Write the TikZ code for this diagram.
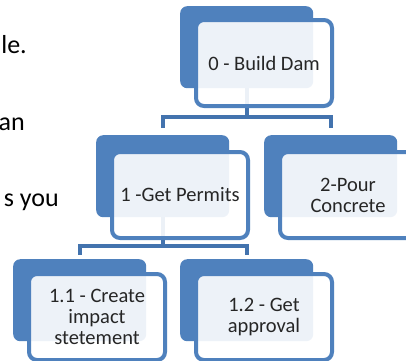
\documentclass[tikz,border=0pt]{standalone}
\usepackage{fontspec}
\setmainfont{Carlito}
\definecolor{accent}{HTML}{4F81BD}
\definecolor{connc}{HTML}{4373AE}
\tikzset{
  bluebox/.style={fill=accent, rounded corners=7pt, minimum width=133pt, minimum height=82pt, anchor=north west, inner sep=0pt},
  frontbox/.style={draw=accent, line width=4pt, fill=white, fill opacity=0.9, text opacity=1, rounded corners=8pt, minimum width=136pt, minimum height=86pt, anchor=north west, inner sep=0pt, align=center, font=\fontsize{20.5}{21}\selectfont, text=black!85},
  conn/.style={draw=connc, line width=4pt},
  sidetext/.style={anchor=base east, font=\fontsize{26}{30}\selectfont, inner sep=0pt}
}
\begin{document}
\begin{tikzpicture}[x=1pt,y=-1pt]
\clip (0,0) rectangle (406,360);
\fill[white] (0,0) rectangle (406,360);
% side text
\node[sidetext] (t1) at (27,53) {le.};
\node[sidetext] (t2) at (25,130) {an};
\node[sidetext] (t3) at (59,206) {s you};
% back boxes
\node[bluebox] (b0) at (180,6) {};
\node[bluebox] (b1) at (96,135) {};
\node[bluebox] (b2) at (264,135) {};
\node[bluebox] (b11) at (13,259) {};
\node[bluebox] (b12) at (180,259) {};
% connectors
\draw[conn, shorten >=7pt] (b0.south) -- ++(0,29) -| (b1.north);
\draw[conn, shorten >=7pt] (b0.south) -- ++(0,29) -| (b2.north);
\draw[conn, shorten >=4pt] (b1.south) -- ++(0,29) -| (b11.north);
\draw[conn, shorten >=4pt] (b1.south) -- ++(0,29) -| (b12.north);
% front boxes
\node[frontbox] (f0) at (194,18) {0 - Build Dam};
\node[frontbox] (f1) at (110,150) {1 -Get Permits};
\node[frontbox] (f2) at (278,150) {2-Pour\\Concrete};
\node[frontbox] (f11) at (27,272) {1.1 - Create\\impact\\stetement};
\node[frontbox] (f12) at (194,272) {1.2 - Get\\approval};
\end{tikzpicture}
\end{document}
